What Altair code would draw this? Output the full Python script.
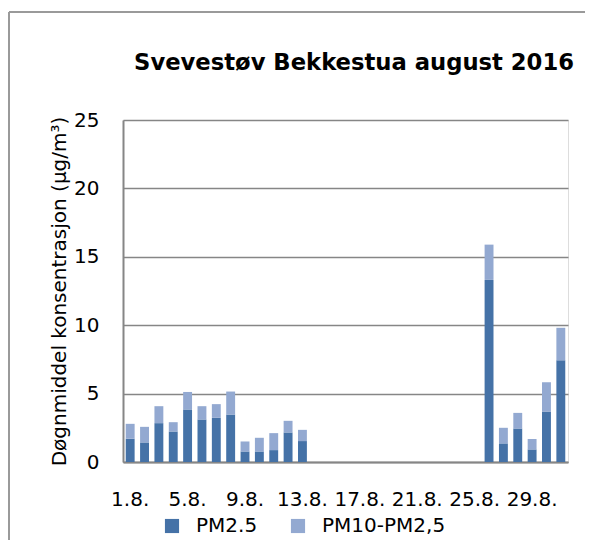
import altair as alt
import pandas as pd

days = [f"{d}.8." for d in range(1, 32)]
tick_labels = ["1.8.", "5.8.", "9.8.", "13.8.", "17.8.", "21.8.", "25.8.", "29.8."]
pm25 = [1.70, 1.43, 2.84, 2.23, 3.84, 3.11, 3.23, 3.47, 0.77, 0.77, 0.87, 2.16, 1.53,
        None, None, None, None, None, None, None, None, None, None, None, None,
        13.31, 1.36, 2.45, 0.92, 3.69, 7.43]
coarse = [1.09, 1.14, 1.24, 0.68, 1.28, 0.97, 1.00, 1.68, 0.73, 1.00, 1.24, 0.85, 0.82,
          None, None, None, None, None, None, None, None, None, None, None, None,
          2.58, 1.14, 1.14, 0.76, 2.14, 2.38]
series = ["PM2.5", "PM10-PM2,5"]
colors = ["#4572A7", "#93A9D1"]
title_text = "Svevestøv Bekkestua august 2016"

rows = []
for d, a, b in zip(days, pm25, coarse):
    if a is not None:
        rows.append({"dag": d, "serie": series[0], "verdi": a, "ord": 0})
        rows.append({"dag": d, "serie": series[1], "verdi": b, "ord": 1})
df = pd.DataFrame(rows)

FONT = "DejaVu Sans"
GRAY = "#868686"

bars = alt.Chart(df).mark_bar().encode(
    x=alt.X("dag:N", scale=alt.Scale(domain=days, paddingInner=0.38, paddingOuter=0.19),
            axis=alt.Axis(values=tick_labels, labelAngle=0, title=None, ticks=False,
                          tickSize=0, labelPadding=27, domainColor=GRAY, domainWidth=2,
                          labelFont=FONT, labelFontSize=20, labelColor="black",
                          grid=False)),
    y=alt.Y("verdi:Q", stack="zero", scale=alt.Scale(domain=[0, 25]),
            axis=alt.Axis(values=[0, 5, 10, 15, 20, 25], title="Døgnmiddel konsentrasjon (µg/m³)",
                          ticks=False, tickSize=0, labelPadding=24, domainColor=GRAY,
                          domainWidth=2, gridColor=GRAY, gridWidth=1.5,
                          labelFont=FONT, labelFontSize=20, labelColor="black",
                          titleFont=FONT, titleFontSize=20, titleFontWeight="normal",
                          titleColor="black", titlePadding=4)),
    color=alt.Color("serie:N", scale=alt.Scale(domain=series, range=colors),
                    legend=alt.Legend(title=None, orient="none", legendX=39, legendY=396,
                                      direction="horizontal", columns=2, symbolType="square",
                                      symbolSize=200, symbolStrokeWidth=0, columnPadding=30,
                                      labelOffset=14, labelFont=FONT, labelFontSize=20,
                                      labelColor="black")),
    order=alt.Order("ord:Q"),
)

frame_top = alt.Chart(df).mark_rule(stroke="#9a9a9a", strokeWidth=1.5).encode(
    x=alt.value(-114), x2=alt.value(462), y=alt.value(-108)
)
frame_left = alt.Chart(df).mark_rule(stroke="#9a9a9a", strokeWidth=1.5).encode(
    x=alt.value(-114), y=alt.value(-108), y2=alt.value(420)
)

title = alt.Chart(pd.DataFrame({"t": [title_text]})).mark_text(
    font=FONT, fontSize=22.7, fontWeight="bold", color="black", align="center",
    baseline="alphabetic"
).encode(text="t:N", x=alt.value(231), y=alt.value(-50))

chart = alt.layer(frame_top, frame_left, bars, title).properties(
    width=445, height=342,
    autosize=alt.AutoSizeParams(type="none"),
    padding={"left": 115, "top": 112, "right": 19, "bottom": 78},
).configure_view(stroke=None).configure(background="white")

chart.save("out.html", embed_options={"renderer": "svg", "actions": False})
